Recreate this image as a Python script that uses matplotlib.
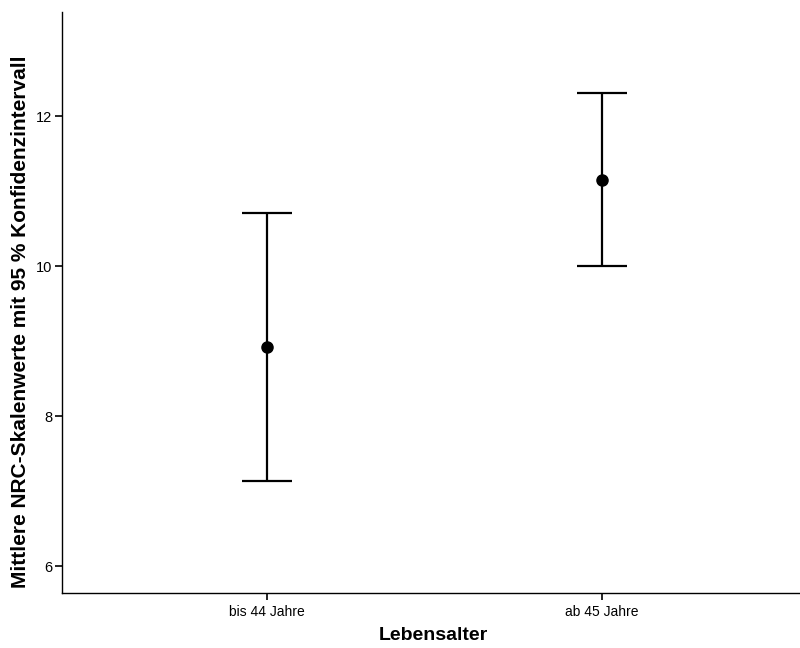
import matplotlib.pyplot as plt
import numpy as np

plt.rcParams['font.family'] = ['Liberation Sans', 'DejaVu Sans']

# Gruppen und Mittelwerte mit 95%-KI
groups = ['bis 44 Jahre', 'ab 45 Jahre']
means = [8.92, 11.15]
ci_low = [7.13, 10.00]
ci_high = [10.71, 12.31]


def main():
    fig = plt.figure(figsize=(8, 6.48), dpi=100)
    ax = fig.add_axes([62 / 800, 1 - 593 / 648, (800 - 62) / 800, (593 - 12) / 648])

    x = np.arange(len(groups))
    means_arr = np.array(means)
    yerr = [means_arr - np.array(ci_low), np.array(ci_high) - means_arr]
    ax.errorbar(x, means, yerr=yerr, fmt='o', color='black', ms=8,
                elinewidth=1.6, capsize=18, capthick=1.6)

    ax.set_xlim(-0.61, 1.59)
    ax.set_ylim(5.64, 13.39)
    ax.set_xticks(x)
    ax.set_xticklabels(groups, fontsize=10)
    ax.set_yticks([6, 8, 10, 12])
    ax.tick_params(axis='y', labelsize=10.5, length=5, width=1.2, pad=2)
    ax.tick_params(axis='x', length=5, width=1.2)

    for side in ['top', 'right']:
        ax.spines[side].set_visible(False)
    for side in ['left', 'bottom']:
        ax.spines[side].set_linewidth(1.0)

    ax.set_xlabel('Lebensalter', fontsize=14, fontweight='bold')
    ax.set_ylabel('Mittlere NRC-Skalenwerte mit 95 % Konfidenzintervall',
                  fontsize=15, fontweight='bold')
    # Beschriftungen in Pixeln wie im Original platzieren
    ax.xaxis.set_label_coords((433 - 62) / 738, -(636 - 593) / 581)
    ax.yaxis.set_label_coords(-(62 - 21) / 738, (593 - 322) / 581)
    ax.xaxis.label.set_va('center')
    ax.yaxis.label.set_va('center')

    fig.savefig('out.png', dpi=100)
    plt.close(fig)


if __name__ == '__main__':
    main()
